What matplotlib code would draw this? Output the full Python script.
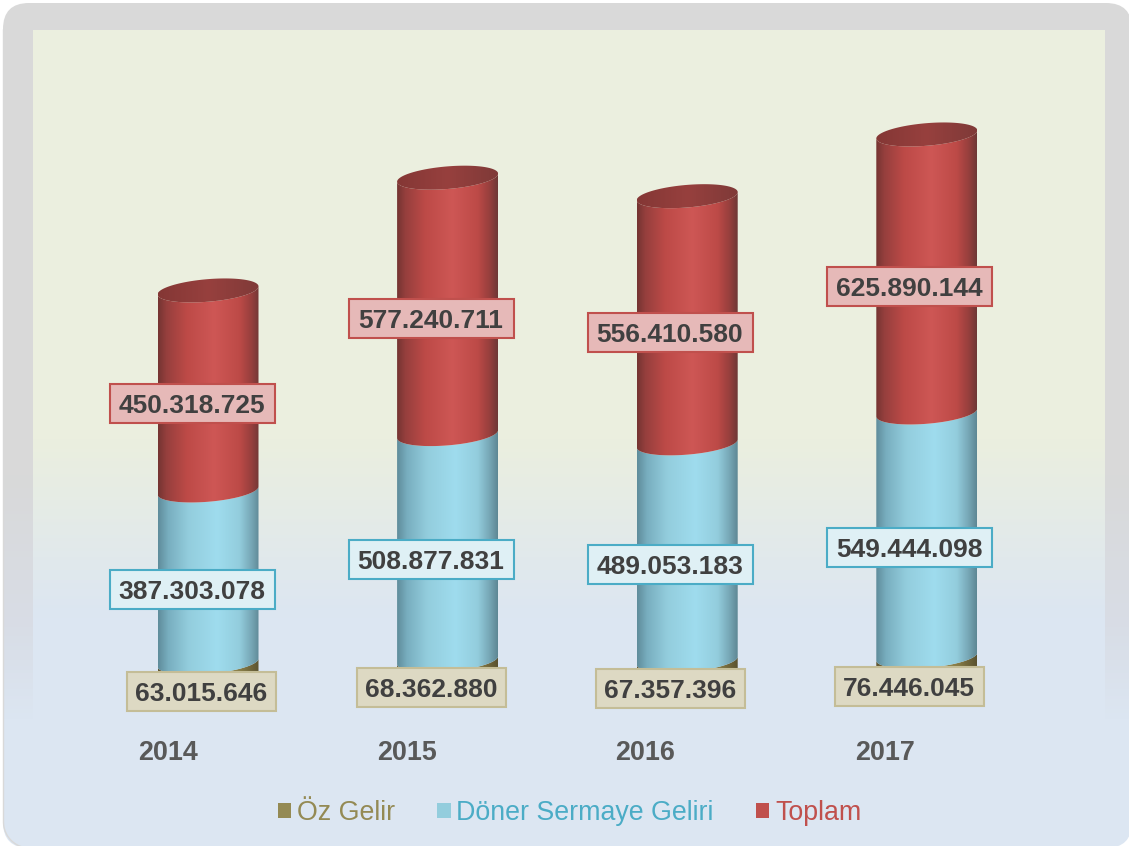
import numpy as np
import matplotlib
matplotlib.use("Agg")
import matplotlib.pyplot as plt
from matplotlib.colors import to_rgb
from matplotlib.patches import FancyBboxPatch, Polygon, Rectangle

plt.rcParams['font.family'] = ['Liberation Sans', 'DejaVu Sans']

years = ['2014', '2015', '2016', '2017']
oz_gelir = [63015646, 68362880, 67357396, 76446045]
doner = [387303078, 508877831, 489053183, 549444098]
toplam = [450318725, 577240711, 556410580, 625890144]
labels = ['Öz Gelir', 'Döner Sermaye Geliri', 'Toplam']

W, H = 1129, 846

# pixel scale of the plot
x0_px, x_step = 208.0, 239.6
y0_px, y_scale = 690.5, 0.4442e-6
half_w = 50.5 / x_step
minor = 11.3 / y_scale
slope = 0.08 * x_step / y_scale


def grad(stops, n=256):
    pos = [s[0] for s in stops]
    cols = np.array([to_rgb(s[1]) for s in stops])
    t = np.linspace(0, 1, n)
    return np.stack([np.interp(t, pos, cols[:, i]) for i in range(3)], axis=-1)


def shaft(stops):
    return grad(stops)[np.newaxis, :, :]


def px_x(px):
    return (px - x0_px) / x_step


fig = plt.figure(figsize=(W / 100, H / 100), dpi=100, facecolor='white')

# background panel, in pixels. right and bottom edges run off the picture
bg = fig.add_axes([0, 0, 1, 1])
bg.axis('off')

outer_grad = grad([(0, '#D9D9D9'), (0.56, '#D9D9D9'), (0.74, '#D8DDE6'), (0.85, '#DCE6F2'), (1, '#DCE6F2')])[:, np.newaxis, :]
inner_grad = grad([(0, '#EBEFDF'), (0.5, '#EBEFDF'), (0.72, '#DCE6F2'), (1, '#DCE6F2')])[:, np.newaxis, :]

panel = FancyBboxPatch((3, 3), 1132 - 3, 848 - 3, boxstyle='round,pad=0,rounding_size=26',
                       facecolor='none', edgecolor='none', zorder=0)
bg.add_patch(panel)
im = bg.imshow(outer_grad, extent=(3, 1132, 848, 3), aspect='auto', zorder=1)
im.set_clip_path(panel)
im2 = bg.imshow(inner_grad, extent=(33, 1105, 848, 31), aspect='auto', zorder=2)
im2.set_clip_path(panel)

# thin grey rim on the left, round the bottom corner
corner = np.linspace(np.pi, np.pi / 2, 30)
rim_x = np.r_[3.5, 3.5 + 26 + 26 * np.cos(corner)]
rim_y = np.r_[30, 822 + 26 * np.sin(corner)]
bg.plot(rim_x, rim_y, color='#D9D9D9', lw=1, zorder=3)
bg.set_xlim(0, W)
bg.set_ylim(H, 0)

# plot axes, same frame as the panel
ax = fig.add_axes([0, 0, 1, 1], zorder=2)
ax.patch.set_visible(False)
xlim = (px_x(0), px_x(W))
ylim = ((y0_px - H) / y_scale, y0_px / y_scale)

red_stops = [(0, '#743432'), (0.08, '#953F3D'), (0.28, '#BD4A47'), (0.55, '#CE5755'), (0.8, '#BD4A47'), (0.92, '#963F3D'), (1, '#6E3836')]
blue_stops = [(0, '#5F8C9B'), (0.1, '#78AEBF'), (0.3, '#93CDDD'), (0.58, '#9FDCEE'), (0.8, '#93CDDD'), (0.92, '#76A6B5'), (1, '#5E8794')]
olive_stops = [(0, '#5E5532'), (0.25, '#8A7F4C'), (0.58, '#A2965A'), (0.82, '#857A45'), (1, '#5A5230')]
top_stops = [(0, '#843735'), (0.5, '#97403E'), (1, '#7F3A38')]


def arc(cx, v, t):
    # ellipse of the cylinder, tilted a bit up to the right
    x = cx + half_w * np.cos(t)
    y = v - minor * np.sin(t) + slope * half_w * np.cos(t)
    return x, y


def segment(cx, v0, v1, stops):
    t = np.linspace(np.pi, 0, 80)
    xb, yb = arc(cx, v0, t)
    xt, yt = arc(cx, v1, t[::-1])
    poly = Polygon(np.column_stack([np.r_[xb, xt], np.r_[yb, yt]]), closed=True,
                   facecolor='none', edgecolor='none', transform=ax.transData)
    ax.add_patch(poly)
    img = ax.imshow(shaft(stops), extent=(cx - half_w, cx + half_w, v0 - 2 * minor, v1 + 2 * minor),
                    aspect='auto', zorder=2)
    img.set_clip_path(poly)


def value_label(x, y, val, w_px, face, edge):
    # fixed size box, text sits on a baseline so the digits are centred in it
    w = w_px / x_step
    h = 39 / y_scale
    ax.add_patch(Rectangle((x - w / 2, y - h / 2), w, h, facecolor=face, edgecolor=edge, linewidth=1.5, zorder=4))
    ax.text(x, y - 9.5 / y_scale, '{:,}'.format(val).replace(',', '.'), ha='center', va='baseline',
            fontsize=19, fontweight='bold', color='#404040', zorder=5)


for i in range(len(years)):
    base = oz_gelir[i]
    mid = base + doner[i]
    top = mid + toplam[i]
    segment(i, 0, base, olive_stops)
    segment(i, base, mid, blue_stops)
    segment(i, mid, top, red_stops)

    t = np.linspace(0, 2 * np.pi, 160)
    xe, ye = arc(i, top, t)
    face = Polygon(np.column_stack([xe, ye]), closed=True, facecolor='none', edgecolor='none',
                   transform=ax.transData)
    ax.add_patch(face)
    img = ax.imshow(shaft(top_stops), extent=(i - half_w, i + half_w, top - 2 * minor, top + 2 * minor),
                    aspect='auto', zorder=3)
    img.set_clip_path(face)

    # value labels sit at the middle of the front of each part, left of the bar
    label_x = px_x(192 + 239 * i)
    oz_x = px_x(201.5) if i == 0 else label_x
    oz_dy = -2.5 if i == 0 else 0
    value_label(oz_x, base / 2 - 1.12 * minor + oz_dy / y_scale, oz_gelir[i], 149, '#DDD9C3', '#C4BD97')
    value_label(label_x, base + doner[i] / 2 - 1.12 * minor, doner[i], 165, '#DFF0F5', '#4BACC6')
    value_label(label_x, mid + toplam[i] / 2 - 1.12 * minor, toplam[i], 165, '#E6B9B8', '#C0504D')

ax.set_xlim(xlim)
ax.set_ylim(ylim)
ax.axis('off')

# category labels, off to the left of the bars
for i, yr in enumerate(years):
    ax.text(px_x(167.5 + 239 * i), (y0_px - 752.5) / y_scale, yr, ha='center', va='center',
            fontsize=19.4, fontweight='bold', color='#595959', zorder=5)

handles = [Rectangle((0, 0), 1, 1, facecolor=c) for c in ['#948A54', '#93CDDD', '#C0504D']]
leg = fig.legend(handles, labels, loc='center', bbox_to_anchor=(569.5 / W, 1 - 813 / H), ncols=3,
                 frameon=False, fontsize=19.3, handlelength=0.5, handleheight=0.5, handletextpad=0.22,
                 columnspacing=1.57, labelcolor=['#948A54', '#4BACC6', '#C0504D'], borderpad=0, borderaxespad=0)

fig.savefig('out.png', dpi=100)
